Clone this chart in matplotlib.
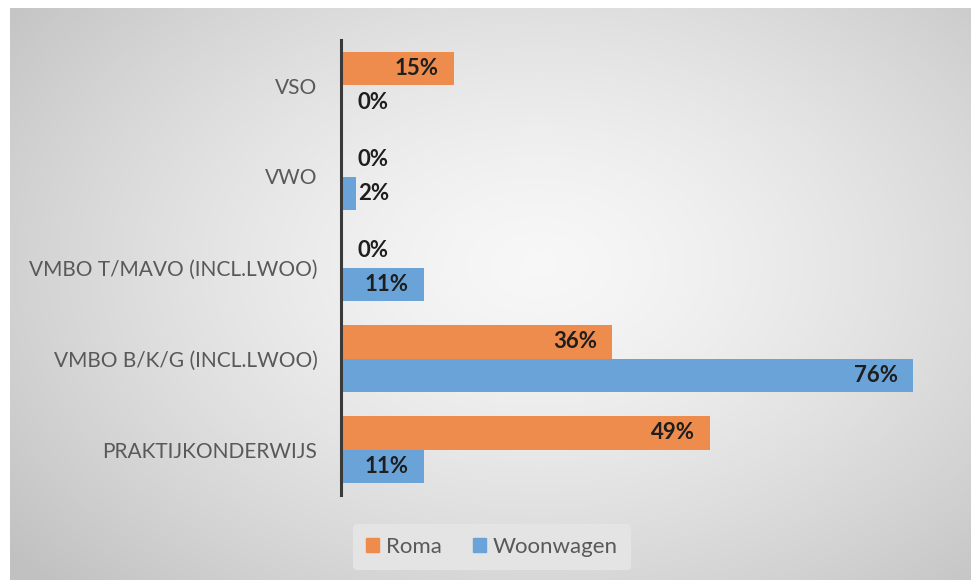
import numpy as np
import matplotlib.pyplot as plt
from matplotlib.patches import Patch

categories = ["VSO", "VWO", "VMBO T/MAVO (INCL.LWOO)", "VMBO B/K/G (INCL.LWOO)", "PRAKTIJKONDERWIJS"]
roma = [15, 0, 0, 36, 49]
woonwagen = [0, 2, 11, 76, 11]
series_names = ["Roma", "Woonwagen"]
colors = ["#ED8C4C", "#6AA3D8"]

FONT = "Lato"
W, H = 971, 580
fig = plt.figure(figsize=(W / 100, H / 100), dpi=100)
fig.patch.set_facecolor("white")

# background radial gradient (chart area starts after a thin white border)
bg = fig.add_axes([10 / W, 0, 1 - 10 / W, 1 - 8 / H])
yy, xx = np.mgrid[0:1:300j, 0:1:500j]
r = np.sqrt(((xx - 0.55) / 0.75) ** 2 + ((yy - 0.45) / 0.85) ** 2)
val = np.clip(0.97 - 0.23 * r ** 1.4, 0.76, 0.97)
bg.imshow(np.dstack([val, val, val]), aspect="auto", extent=[0, 1, 0, 1], origin="upper")
bg.set_axis_off()

left_px, right_px, top_px, bot_px = 341, 943, 40, 495
ax = fig.add_axes([left_px / W, 1 - bot_px / H, (right_px - left_px) / W, (bot_px - top_px) / H])
ax.patch.set_alpha(0)

n = len(categories)
pos = np.arange(n)
bh = 0.363
ax.barh(pos - bh / 2, roma, height=bh, color=colors[0], zorder=2)
ax.barh(pos + bh / 2, woonwagen, height=bh, color=colors[1], zorder=2)
ax.set_xlim(0, 80)
ax.set_ylim(n - 0.5, -0.5)

for vals, off in ((roma, -bh / 2), (woonwagen, bh / 2)):
    for i, v in enumerate(vals):
        label = f"{v}%"
        if v >= 8:
            ax.text(v - 2.0, i + off, label, ha="right", va="center", fontsize=16,
                    fontweight="bold", color="#1e1e1e", family=FONT, zorder=3)
        else:
            ax.text(max(v, 2.0) + 0.25, i + off, label, ha="left", va="center", fontsize=16,
                    fontweight="bold", color="#1e1e1e", family=FONT, zorder=3)

ax.set_yticks(pos)
ax.set_yticklabels(categories, fontsize=15, color="#595959", family=FONT)
ax.tick_params(axis="y", length=0, pad=17)
ax.set_xticks([])
for s in ["top", "right", "bottom"]:
    ax.spines[s].set_visible(False)
ax.spines["left"].set_color("#3a3a3a")
ax.spines["left"].set_linewidth(2.2)

handles = [Patch(color=c, label=l) for c, l in zip(colors, series_names)]
leg = fig.legend(handles=handles, loc="center", bbox_to_anchor=(492 / W, 1 - 547 / H),
                 ncol=2, frameon=True, handlelength=0.6, handleheight=0.6,
                 handletextpad=0.3, columnspacing=1.4, borderpad=0.6,
                 prop={"family": FONT, "size": 16})
leg.get_frame().set_facecolor("#e4e4e4")
leg.get_frame().set_edgecolor("none")
leg.get_frame().set_alpha(1)
for t in leg.get_texts():
    t.set_color("#595959")

fig.savefig("out.png", dpi=100)
